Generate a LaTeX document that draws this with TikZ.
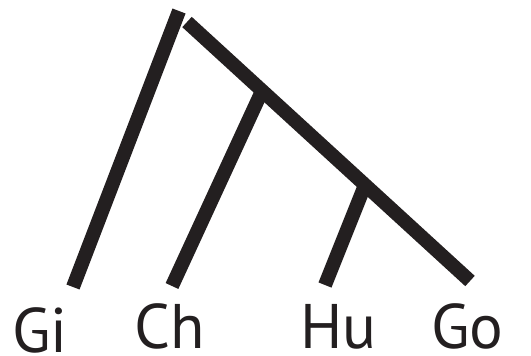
\documentclass[tikz,border=0pt]{standalone}
\usepackage{fontspec}
\setmainfont{PT Sans}
\definecolor{ink}{HTML}{231F20}
\begin{document}
\begin{tikzpicture}[x=1pt,y=-1pt,
  branch/.style={draw=ink,line width=14pt,line cap=butt},
  taxon/.style={anchor=base,inner sep=0pt,text depth=0pt,text=ink,font=\fontsize{63}{63}\selectfont}]
\useasboundingbox (0,0) rectangle (531,356);
\coordinate (lt) at (179,11);
\coordinate (rt) at (187,22);
\coordinate (gi) at (73,287);
\coordinate (go) at (470,281);
\coordinate (chj) at (262,91);
\coordinate (ch) at (172,286);
\coordinate (huj) at (365,185);
\coordinate (hu) at (325,285);
\draw[branch] (gi) -- (lt);
\draw[branch] (rt) -- (go);
\draw[branch] (chj) -- (ch);
\draw[branch] (huj) -- (hu);
\node[taxon] (tgi) at (40,352) {Gi};
\node[taxon] (tch) at (170,348) {Ch};
\node[taxon] (thu) at (338.5,348) {Hu};
\node[taxon] (tgo) at (467.5,348) {Go};
\end{tikzpicture}
\end{document}
